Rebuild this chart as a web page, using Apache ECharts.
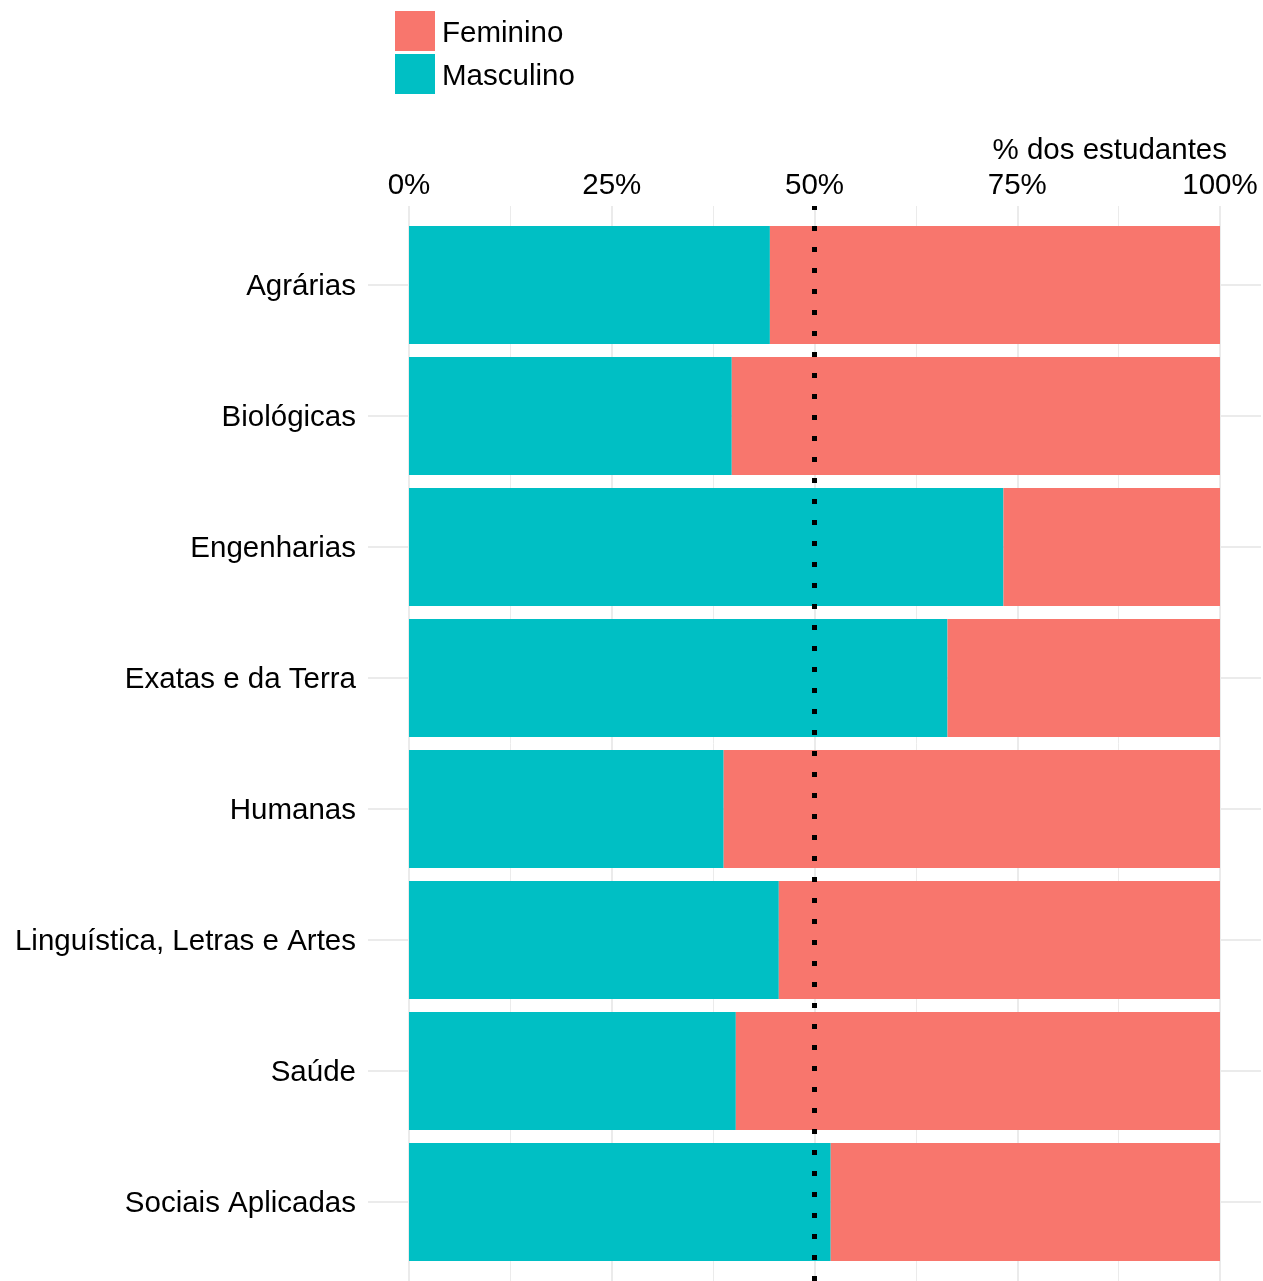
<!DOCTYPE html>
<html>
<head>
<meta charset="utf-8">
<script src="https://cdn.jsdelivr.net/npm/echarts@6/dist/echarts.min.js"></script>
<style>
  html, body { margin: 0; padding: 0; background: #fff; }
  #chart { width: 1263px; height: 1281px; }
</style>
</head>
<body>
<div id="chart"></div>
<script>
const areas = ['Agrárias', 'Biológicas', 'Engenharias', 'Exatas e da Terra', 'Humanas',
  'Linguística, Letras e Artes', 'Saúde', 'Sociais Aplicadas'];
const masculino = [44.5, 39.8, 73.3, 66.4, 38.8, 45.6, 40.3, 52.0];
const feminino = [55.5, 60.2, 26.7, 33.6, 61.2, 54.4, 59.7, 48.0];
const xTicks = [0, 25, 50, 75, 100];
const refLine = 50;

const FONT = 'Liberation Sans, Arial, sans-serif';
const FS = 29.5;
const GRID_COLOR = '#ebebeb';

const chart = echarts.init(document.getElementById('chart'));

// text pushed a few px down inside its box
const low = (px) => ({ t: { fontFamily: FONT, fontSize: FS, color: '#000', padding: [px, 0, 0, 0] } });

const option = {
  animation: false,
  textStyle: { fontFamily: FONT },
  title: {
    text: '% dos estudantes',
    right: 31,
    top: 131,
    textStyle: { fontFamily: FONT, fontSize: FS, fontWeight: 'normal', color: '#000' }
  },
  legend: {
    data: ['Feminino', 'Masculino'],
    orient: 'vertical',
    left: 395,
    top: 11,
    padding: 0,
    itemWidth: 40,
    itemHeight: 40,
    itemGap: 3,
    icon: 'rect',
    formatter: name => '{t|' + name + '}',
    textStyle: { fontFamily: FONT, fontSize: FS, color: '#000', padding: [0, 0, 0, 2], rich: low(6) }
  },
  grid: [
    // bars
    { left: 409, right: 43, top: 219.5, bottom: 13.5 },
    // vertical grid lines (full panel height)
    { left: 409, right: 43, top: 206, bottom: 0 },
    // horizontal grid lines (full panel width)
    { left: 368, right: 2.5, top: 219.5, bottom: 13.5 }
  ],
  xAxis: [
    {
      gridIndex: 0, type: 'value', position: 'top',
      min: 0, max: 100, interval: 25,
      axisLine: { show: false }, axisTick: { show: false },
      splitLine: { show: false },
      axisLabel: {
        formatter: v => xTicks.includes(v) ? v + '%' : '',
        fontFamily: FONT, fontSize: FS, color: '#000', margin: 19
      }
    },
    {
      gridIndex: 1, type: 'value', min: 0, max: 100, interval: 25,
      axisLine: { show: false }, axisTick: { show: false }, axisLabel: { show: false },
      splitLine: { show: true, lineStyle: { color: GRID_COLOR, width: 2 } },
      minorTick: { show: false, splitNumber: 2 },
      minorSplitLine: { show: true, lineStyle: { color: GRID_COLOR, width: 1 } }
    },
    { gridIndex: 2, type: 'value', show: false, min: 0, max: 1 }
  ],
  yAxis: [
    {
      gridIndex: 0, type: 'category', data: areas, inverse: true,
      axisLine: { show: false }, axisTick: { show: false },
      axisLabel: {
        formatter: v => '{t|' + v + '}',
        fontFamily: FONT, fontSize: FS, color: '#000', margin: 53, rich: low(4)
      }
    },
    { gridIndex: 1, type: 'value', show: false, min: 0, max: 1 },
    {
      gridIndex: 2, type: 'category', data: areas, inverse: true,
      axisLine: { show: false }, axisLabel: { show: false },
      axisTick: {
        show: true, inside: true, alignWithLabel: true, length: 893,
        lineStyle: { color: GRID_COLOR, width: 2 }
      }
    }
  ],
  series: [
    {
      name: 'Masculino', type: 'bar', stack: 'total',
      xAxisIndex: 0, yAxisIndex: 0,
      barWidth: '90%',
      itemStyle: { color: '#00BFC4' },
      data: masculino, z: 3
    },
    {
      name: 'Feminino', type: 'bar', stack: 'total',
      xAxisIndex: 0, yAxisIndex: 0,
      barWidth: '90%',
      itemStyle: { color: '#F8766D' },
      data: feminino, z: 3
    },
    {
      name: 'ref', type: 'line', xAxisIndex: 1, yAxisIndex: 1,
      data: [], z: 10, zlevel: 1,
      markLine: {
        silent: true, symbol: 'none',
        label: { show: false },
        lineStyle: { color: '#000', width: 5, type: [5, 16], cap: 'butt' },
        data: [{ xAxis: refLine }]
      }
    }
  ]
};

chart.setOption(option);
</script>
</body>
</html>
